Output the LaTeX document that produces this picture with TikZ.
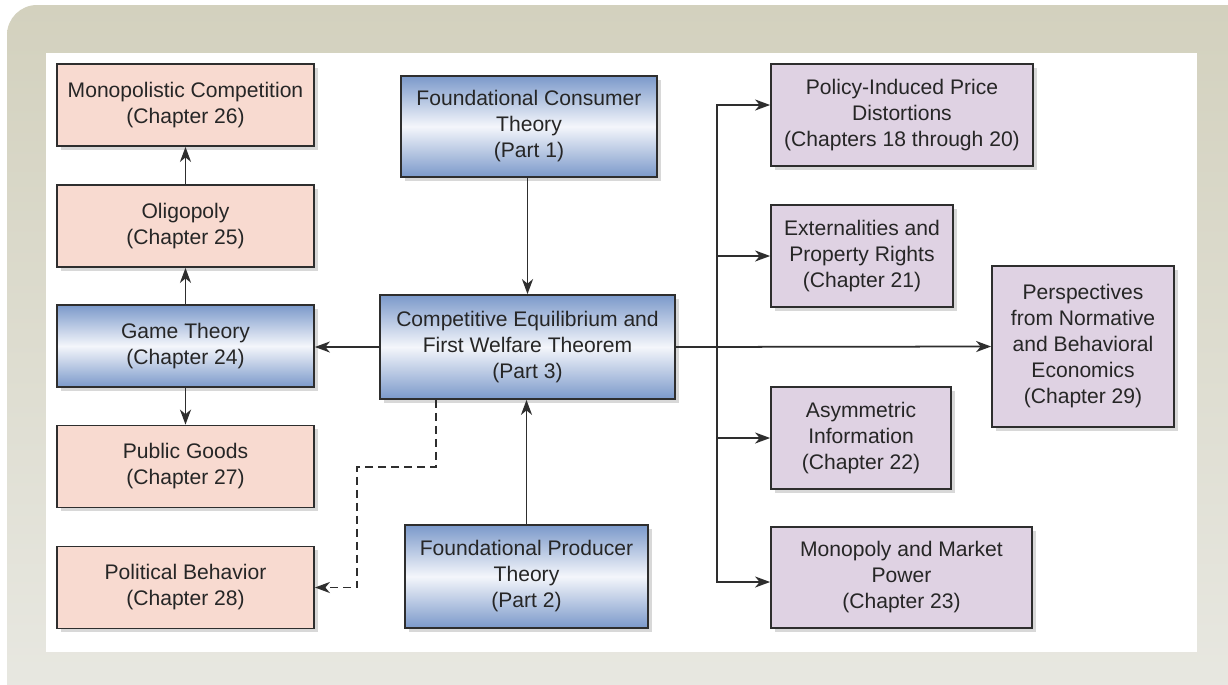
\documentclass[tikz,border=0pt]{standalone}
\usepackage{fontspec}
\setmainfont{Liberation Sans}
\usepackage{xcolor}
\usepackage{tikz}
\usetikzlibrary{positioning,arrows.meta,calc,shadows}
\definecolor{bgtop}{HTML}{D3D1BE}
\definecolor{bgbot}{HTML}{E9E9E3}
\definecolor{pinkfill}{HTML}{F8DAD0}
\definecolor{lilacfill}{HTML}{DFD2E3}
\definecolor{bluedark}{HTML}{7B99CA}
\definecolor{bluelight}{HTML}{F4F6FB}
\definecolor{boxline}{HTML}{2E2E2E}
\tikzset{box/.style={draw=boxline, line width=1pt, align=center, inner sep=0pt, text=black!85,
    font=\fontsize{12}{14.8}\selectfont,
    drop shadow={shadow xshift=0.07cm, shadow yshift=-0.07cm, opacity=0.3}},
  wh/.style 2 args={minimum width=#1*0.02cm, minimum height=#2*0.02cm},
  pinkbox/.style={box, fill=pinkfill},
  lilacbox/.style={box, fill=lilacfill},
  bluebox/.style={box, top color=bluedark, bottom color=bluedark, middle color=bluelight},
  link/.style={draw=boxline, line width=1pt, ->},
  dashlink/.style={link, dash pattern=on 0.16cm off 0.1cm}}
\begin{document}
\begin{tikzpicture}[x=0.02cm, y=-0.02cm, >={Stealth[length=0.3cm,width=0.22cm,inset=0.09cm]}]
	\useasboundingbox (0,0) rectangle (1228,684);
	% frame
	\shade[top color=bgtop, bottom color=bgbot, rounded corners=0.6cm] (7,5) rectangle (1270,730);
	\fill[white] (46,53) rectangle (1197,652);
	% left column
	\node[pinkbox, wh={257}{82}] (monocomp) at (185.5,105) {Monopolistic Competition\\(Chapter 26)};
	\node[pinkbox, wh={257}{82}] (oligo) at (185.5,226) {Oligopoly\\(Chapter 25)};
	\node[bluebox, wh={257}{82}] (game) at (185.5,346) {Game Theory\\(Chapter 24)};
	\node[pinkbox, wh={257}{82}] (pubgoods) at (185.5,466.5) {Public Goods\\(Chapter 27)};
	\node[pinkbox, wh={257}{82}] (polit) at (185.5,587.5) {Political Behavior\\(Chapter 28)};
	% middle column
	\node[bluebox, wh={256}{101}] (consumer) at (529,126.5) {Foundational Consumer\\Theory\\(Part 1)};
	\node[bluebox, wh={295}{104}] (compeq) at (527.5,347) {Competitive Equilibrium and\\First Welfare Theorem\\(Part 3)};
	\node[bluebox, wh={243}{103}] (producer) at (526.5,576.5) {Foundational Producer\\Theory\\(Part 2)};
	% right column
	\node[lilacbox, wh={262}{102}] (policy) at (902,115) {Policy-Induced Price\\Distortions\\(Chapters 18 through 20)};
	\node[lilacbox, wh={182}{102}] (extern) at (862,256) {Externalities and\\Property Rights\\(Chapter 21)};
	\node[lilacbox, wh={180}{102}] (asym) at (861,438) {Asymmetric\\Information\\(Chapter 22)};
	\node[lilacbox, wh={261}{101}] (monopoly) at (901.5,577.5) {Monopoly and Market\\Power\\(Chapter 23)};
	\node[lilacbox, wh={182}{161}] (persp) at (1083,346.5) {Perspectives\\from Normative\\and Behavioral\\Economics\\(Chapter 29)};
	\coordinate (trunk) at (717,347);
	\coordinate (toptap) at (717,105);
	\coordinate (bottap) at (717,582);
	\coordinate (dbend) at (357,467);
	% connectors
	\draw[link] (consumer.south -| compeq.north) -- (compeq.north);
	\draw[link] (producer.north) -- (producer.north |- compeq.south);
	\draw[link] (compeq.west) -- (compeq.west -| game.east);
	\draw[link] (game.north) -- (oligo.south);
	\draw[link] (oligo.north) -- (monocomp.south);
	\draw[link] (game.south) -- (pubgoods.north);
	\draw[dashlink] ($(compeq.south)+(-91.5,0)$) |- (dbend) |- (polit.east);
	\draw[link] (compeq.east) -- (persp.west);
	\draw[link] (trunk) |- (toptap -| policy.west);
	\draw[link] (trunk) |- (bottap -| monopoly.west);
	\draw[link] (extern.west -| trunk) -- (extern.west);
	\draw[link] (asym.west -| trunk) -- (asym.west);
\end{tikzpicture}
\end{document}
